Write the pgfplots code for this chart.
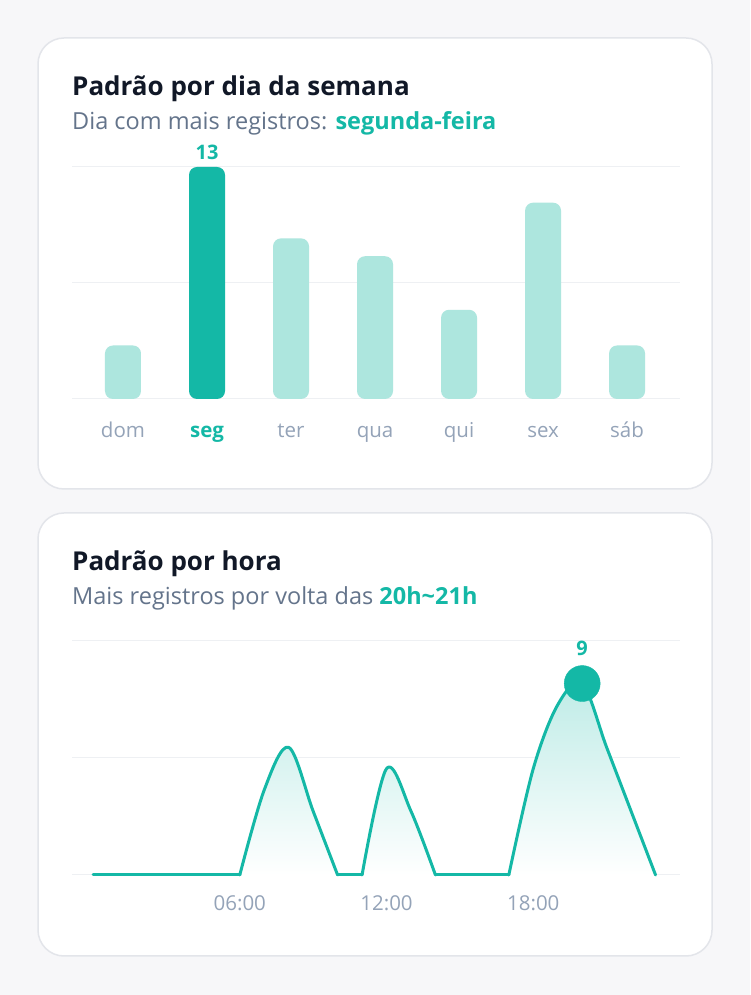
\documentclass[border=0pt]{standalone}
\usepackage{pgfplots}
\pgfplotsset{compat=1.18}
\usepackage{fontspec}
\setmainfont{Open Sans}
\definecolor{bgc}{HTML}{F7F7F9}
\definecolor{cardb}{HTML}{E3E5EA}
\definecolor{titlec}{HTML}{111827}
\definecolor{subc}{HTML}{64748B}
\definecolor{tealc}{HTML}{14B8A6}
\definecolor{lightc}{HTML}{ADE6DE}
\definecolor{tickc}{HTML}{94A3B8}
\definecolor{gridc}{HTML}{EEF0F3}
\begin{document}
\begin{tikzpicture}[x=1pt,y=1pt]
\fill[bgc] (0,0) rectangle (750,995);
\draw[cardb, line width=1.5pt, fill=white, rounded corners=26pt] (38,506) rectangle (712,957);
\draw[cardb, line width=1.5pt, fill=white, rounded corners=26pt] (38,39) rectangle (712,482);
\node[anchor=base west, inner sep=0, font=\fontsize{26}{30}\selectfont\bfseries, text=titlec] at (72,899) {Padrão por dia da semana};
\node[anchor=base west, inner sep=0, font=\fontsize{23.5}{27}\selectfont, text=subc] at (72,865) {Dia com mais registros: \textcolor{tealc}{\bfseries segunda-feira}};
\node[anchor=base west, inner sep=0, font=\fontsize{26}{30}\selectfont\bfseries, text=titlec] at (72,424) {Padrão por hora};
\node[anchor=base west, inner sep=0, font=\fontsize{23.5}{27}\selectfont, text=subc] at (72,390) {Mais registros por volta das \textcolor{tealc}{\bfseries 20h\textasciitilde 21h}};

\begin{axis}[at={(72pt,596pt)}, anchor=south west, scale only axis,
  width=608pt, height=232pt,
  xmin=-0.607, xmax=6.63, ymin=0, ymax=13,
  ytick={0,6.5,13}, yticklabels={}, ymajorgrids,
  grid style={gridc, line width=1pt},
  axis line style={draw=none}, major tick style={draw=none},
  xtick={0,...,6},
  xticklabels={dom,\textcolor{tealc}{\bfseries seg},ter,qua,qui,sex,sáb},
  xticklabel style={font=\fontsize{20.5}{24}\selectfont, text=tickc, anchor=base, yshift=-39pt},
  clip=false]
\addplot[ybar, bar width=36pt, fill=lightc, draw=none, rounded corners=8pt]
  coordinates {(0,3)(2,9)(3,8)(4,5)(5,11)(6,3)};
\addplot[ybar, bar width=36pt, fill=tealc, draw=none, rounded corners=8pt,
  nodes near coords={\pgfmathprintnumber[assume math mode=true]{\pgfplotspointmeta}},
  every node near coord/.append style={font=\fontsize{20}{22}\selectfont\bfseries, text=tealc, anchor=center, yshift=15pt}]
  coordinates {(1,13)};
\end{axis}

\begin{axis}[at={(72pt,120pt)}, anchor=south west, scale only axis,
  width=608pt, height=234pt,
  xmin=-0.86, xmax=24.0, ymin=0, ymax=11,
  ytick={0,5.5,11}, yticklabels={}, ymajorgrids,
  grid style={gridc, line width=1pt},
  axis line style={draw=none}, major tick style={draw=none},
  xtick={6,12,18}, xticklabels={06:00,12:00,18:00},
  xticklabel style={font=\fontsize{20.5}{24}\selectfont, text=tickc, anchor=base, yshift=-36pt},
  clip=false, unbounded coords=jump]
\addplot[draw=none, smooth, tension=0.55, top color=tealc!28!white, bottom color=white]
  coordinates {(6,0)(7,4)(8,6)(9,3)(10,0) (10.5,nan) (11,0)(12,5)(13,3)(14,0) (15.5,nan) (17,0)(18,5)(19,8)(20,9)(21,6)(22,3)(23,0)};
\addplot[tealc, line width=3pt, sharp plot, line join=round, line cap=round]
  coordinates {(0,0)(6,0)(8,nan)(10,0)(11,0)(12,nan)(14,0)(17,0)};
\addplot[tealc, line width=3pt, smooth, tension=0.55, line join=round, line cap=round]
  coordinates {(6,0)(7,4)(8,6)(9,3)(10,0) (10.5,nan) (11,0)(12,5)(13,3)(14,0) (15.5,nan) (17,0)(18,5)(19,8)(20,9)(21,6)(22,3)(23,0)};
\addplot[only marks, mark=*, mark size=18pt, color=tealc,
  nodes near coords={\pgfmathprintnumber[assume math mode=true]{\pgfplotspointmeta}},
  every node near coord/.append style={font=\fontsize{20}{22}\selectfont\bfseries, text=tealc, anchor=center, yshift=35pt}]
  coordinates {(20,9)};
\end{axis}
\end{tikzpicture}
\end{document}
